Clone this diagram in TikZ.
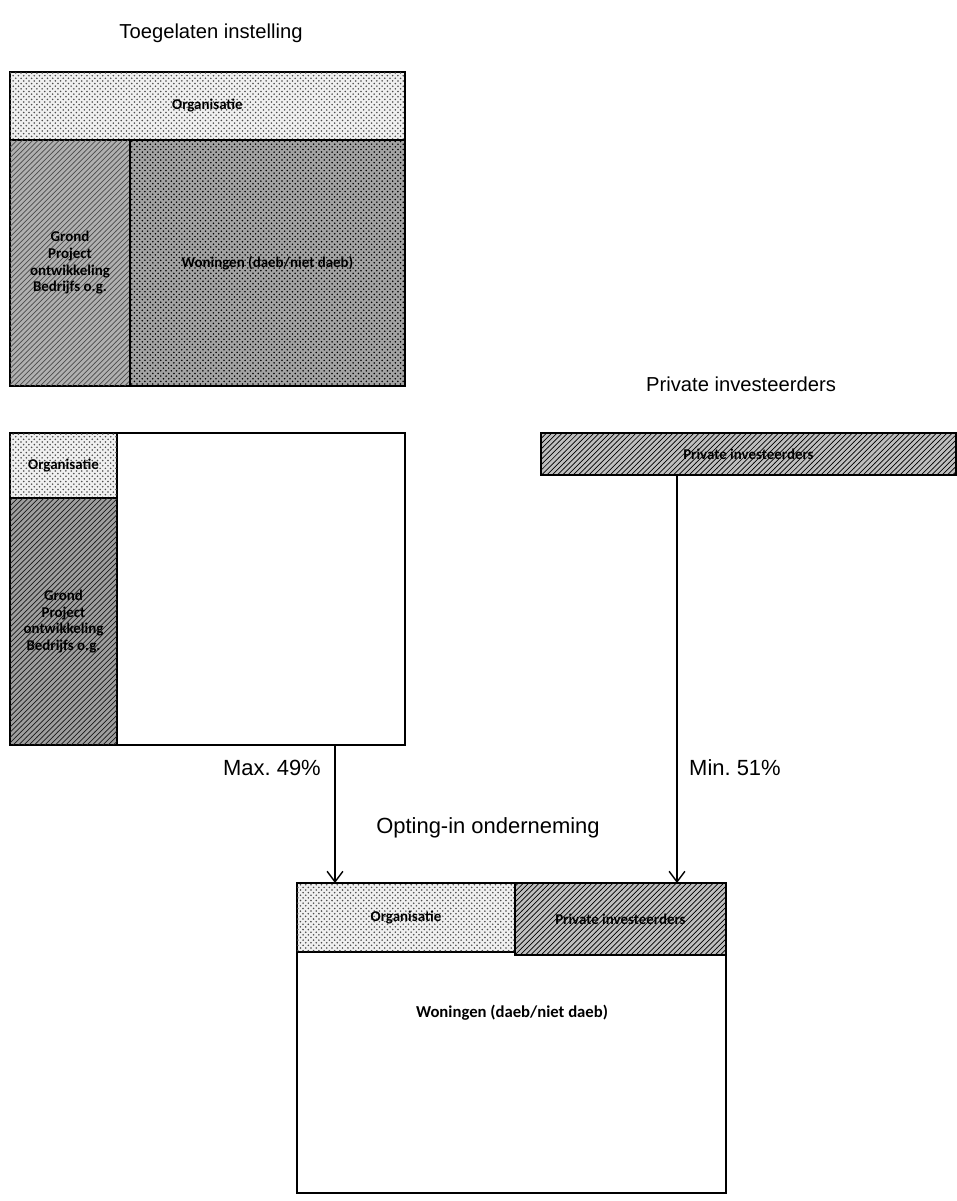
\documentclass[tikz,border=0pt]{standalone}
\usepackage{fontspec}
\setmainfont{Liberation Sans}
\newfontfamily\boxfont{Carlito}
\usetikzlibrary{arrows.meta,patterns,positioning}

\tikzset{
  cell/.style={draw, line width=1pt, inner sep=0pt, outer sep=0pt, anchor=north west,
    font=\boxfont\bfseries\fontsize{8.5}{9.5}\selectfont, align=center},
  orgfill/.style={fill=gray!12, postaction={pattern=crosshatch dots, pattern color=black!70}},
  grondfill/.style={fill=gray!62, postaction={pattern=north east lines, pattern color=black!70}},
  grondfilldark/.style={fill=gray!75, postaction={pattern=north east lines, pattern color=black!90}},
  wonfill/.style={fill=gray!72, postaction={pattern=crosshatch dots, pattern color=black}},
  privfill/.style={fill=gray!50, postaction={pattern=north east lines, pattern color=black}},
  title/.style={font=\fontsize{11.5}{13}\selectfont},
  pct/.style={font=\fontsize{12.5}{14}\selectfont},
  share/.style={-{Straight Barb[length=6pt,width=9pt]}, line width=0.8pt}
}

\begin{document}
\begin{tikzpicture}[x=0.02cm, y=-0.02cm]
  \useasboundingbox (0,0) rectangle (957,1201);

  % toegelaten instelling
  \node[title] (tTI) at (211,33) {Toegelaten instelling};
  \node[cell, orgfill, minimum width=7.9cm, minimum height=1.36cm] (org1) at (10,72) {Organisatie};
  \node[cell, grondfill, minimum width=2.4cm, minimum height=4.92cm] (grond1) at (10,140) {Grond\\Project\\ontwikkeling\\Bedrijfs o.g.};
  \node[cell, wonfill, minimum width=5.5cm, minimum height=4.92cm] (won1) at (130,140) {Woningen (daeb/niet daeb)};

  % na afsplitsing
  \node[cell, minimum width=7.9cm, minimum height=6.24cm] (box2) at (10,433) {};
  \node[cell, orgfill, minimum width=2.14cm, minimum height=1.3cm] (org2) at (10,433) {Organisatie};
  \node[cell, grondfilldark, minimum width=2.14cm, minimum height=4.94cm] (grond2) at (10,498) {Grond\\Project\\ontwikkeling\\Bedrijfs o.g.};

  % private investeerders
  \node[title] (tPI) at (741,384) {Private investeerders};
  \node[cell, privfill, minimum width=8.3cm, minimum height=0.84cm] (priv) at (541,433) {Private investeerders};

  % opting-in onderneming
  \node[pct] (tOI) at (488,828) {Opting-in onderneming};
  \node[cell, minimum width=8.58cm, minimum height=6.2cm] (box3) at (297,883) {};
  \node[cell, orgfill, minimum width=4.36cm, minimum height=1.38cm] (org3) at (297,883) {Organisatie};
  \node[cell, privfill, minimum width=4.22cm, minimum height=1.44cm] (priv3) at (515,883) {Private investeerders};
  \node[font=\boxfont\bfseries\fontsize{9.5}{11}\selectfont] (won3) at (512,1013) {Woningen (daeb/niet daeb)};

  % aandelen
  \coordinate (lft) at (335,745);
  \coordinate (rgt) at (677,475);
  \draw[share] (lft) -- (lft |- box3.north);
  \draw[share] (rgt) -- (rgt |- box3.north);
  \node[pct, anchor=east] (max) at (327,768) {Max.\ 49\%};
  \node[pct, anchor=west] (min) at (683,768) {Min.\ 51\%};
\end{tikzpicture}
\end{document}
